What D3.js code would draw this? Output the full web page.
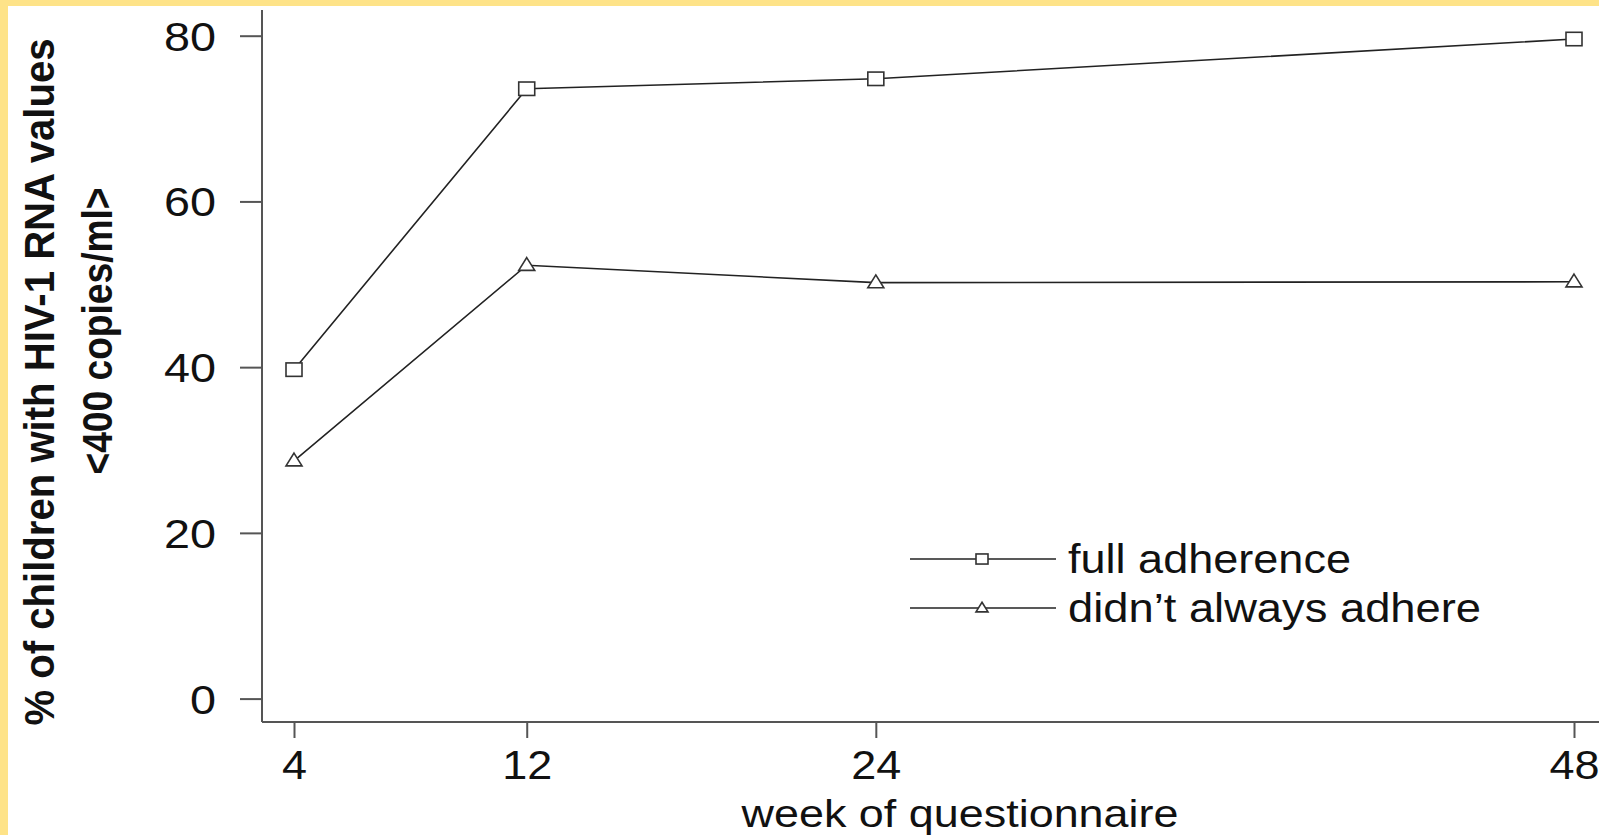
<!DOCTYPE html>
<html>
<head>
<meta charset="utf-8">
<script src="https://cdn.jsdelivr.net/npm/d3@7"></script>
<style>
  html, body { margin: 0; padding: 0; background: #fff; }
  svg { display: block; }
  text { font-family: "Liberation Sans", Arial, sans-serif; fill: #111; }
</style>
</head>
<body>
<svg id="chart" width="1599" height="835"></svg>
<script>
const weeks = [4, 12, 24, 48];
const fullAdherence = [39.7, 73.6, 74.8, 79.6];
const notAlways = [28.7, 52.3, 50.2, 50.3];
const yTicks = [0, 20, 40, 60, 80];
const xTicks = [4, 12, 24, 48];
const seriesNames = ["full adherence", "didn\u2019t always adhere"];
const xTitle = "week of questionnaire";
const yTitle1 = "% of children with HIV-1 RNA values";
const yTitle2 = "<400 copies/ml>";

const svg = d3.select("#chart");
const W = 1599, H = 835;

svg.append("rect").attr("x", 0).attr("y", 0).attr("width", W).attr("height", H).attr("fill", "#fff");
// yellow frame (top and left)
svg.append("rect").attr("x", 0).attr("y", 0).attr("width", W).attr("height", 6).attr("fill", "#fee388");
svg.append("rect").attr("x", 0).attr("y", 0).attr("width", 8).attr("height", H).attr("fill", "#fee388");

const axisX = 262, axisY = 722;
const x = d3.scaleLinear().domain([4, 48]).range([294, 1574]);
const y = d3.scaleLinear().domain([0, 80]).range([698.6, 35.7]);

const axisColor = "#555";

// axis lines
svg.append("line").attr("x1", axisX).attr("x2", axisX).attr("y1", 10).attr("y2", axisY)
  .attr("stroke", axisColor).attr("stroke-width", 2);
svg.append("line").attr("x1", axisX).attr("x2", W).attr("y1", axisY).attr("y2", axisY)
  .attr("stroke", axisColor).attr("stroke-width", 2);

// y axis
const gy = svg.append("g").attr("transform", `translate(${axisX},0)`)
  .call(d3.axisLeft(y).tickValues(yTicks).tickSize(22).tickPadding(24).tickFormat(d3.format("d")));
gy.select(".domain").remove();
gy.selectAll(".tick line").attr("stroke", axisColor).attr("stroke-width", 2);
gy.selectAll(".tick text").attr("font-size", 40).attr("fill", "#111")
  .attr("font-family", "Liberation Sans, Arial, sans-serif")
  .attr("dy", "0.36em")
  .attr("textLength", d => String(d).length * 26)
  .attr("lengthAdjust", "spacingAndGlyphs");

// x axis
const gx = svg.append("g").attr("transform", `translate(0,${axisY})`)
  .call(d3.axisBottom(x).tickValues(xTicks).tickSize(16).tickPadding(13).tickFormat(d3.format("d")));
gx.select(".domain").remove();
gx.selectAll(".tick line").attr("stroke", axisColor).attr("stroke-width", 2);
gx.selectAll(".tick text").attr("font-size", 40).attr("fill", "#111")
  .attr("font-family", "Liberation Sans, Arial, sans-serif")
  .attr("textLength", d => String(d).length * 25)
  .attr("lengthAdjust", "spacingAndGlyphs");

// axis titles
svg.append("text").attr("x", 960).attr("y", 827).attr("text-anchor", "middle")
  .attr("font-size", 39).attr("textLength", 437).attr("lengthAdjust", "spacingAndGlyphs")
  .text(xTitle);

svg.append("text").attr("transform", "translate(54,382) rotate(-90)").attr("text-anchor", "middle")
  .attr("font-size", 42).attr("font-weight", "bold")
  .attr("textLength", 687).attr("lengthAdjust", "spacingAndGlyphs")
  .text(yTitle1);
svg.append("text").attr("transform", "translate(112,331) rotate(-90)").attr("text-anchor", "middle")
  .attr("font-size", 42).attr("font-weight", "bold")
  .attr("textLength", 287).attr("lengthAdjust", "spacingAndGlyphs")
  .text(yTitle2);

// series
const lineGen = d3.line().x(d => x(d[0])).y(d => y(d[1]));
const series = [
  { name: seriesNames[0], values: weeks.map((w, i) => [w, fullAdherence[i]]), shape: "square" },
  { name: seriesNames[1], values: weeks.map((w, i) => [w, notAlways[i]]), shape: "triangle" }
];

const lineColor = "#222";
function marker(g, shape, cx, cy, s) {
  if (shape === "square") {
    g.append("rect").attr("x", cx - s / 2).attr("y", cy - s * 0.42).attr("width", s).attr("height", s * 0.84)
      .attr("fill", "#fff").attr("stroke", "#333").attr("stroke-width", 1.6);
  } else {
    const h = s * 0.8;
    g.append("path").attr("d", `M${cx},${cy - h * 0.6}L${cx + s / 2},${cy + h * 0.4}L${cx - s / 2},${cy + h * 0.4}Z`)
      .attr("fill", "#fff").attr("stroke", "#333").attr("stroke-width", 1.6);
  }
}

series.forEach(s => {
  svg.append("path").datum(s.values).attr("d", lineGen)
    .attr("fill", "none").attr("stroke", lineColor).attr("stroke-width", 1.6);
  const g = svg.append("g");
  s.values.forEach(v => marker(g, s.shape, x(v[0]), y(v[1]), 16));
});

// legend
const legendY = [559, 608];
series.forEach((s, i) => {
  const ly = legendY[i];
  svg.append("line").attr("x1", 910).attr("x2", 1056).attr("y1", ly).attr("y2", ly)
    .attr("stroke", lineColor).attr("stroke-width", 1.6);
  const g = svg.append("g");
  marker(g, s.shape, 982, ly, 12);
  svg.append("text").attr("x", 1068).attr("y", ly).attr("dy", "0.36em")
    .attr("font-size", 40)
    .attr("textLength", i === 0 ? 283 : 413).attr("lengthAdjust", "spacingAndGlyphs")
    .text(s.name);
});
</script>
</body>
</html>
